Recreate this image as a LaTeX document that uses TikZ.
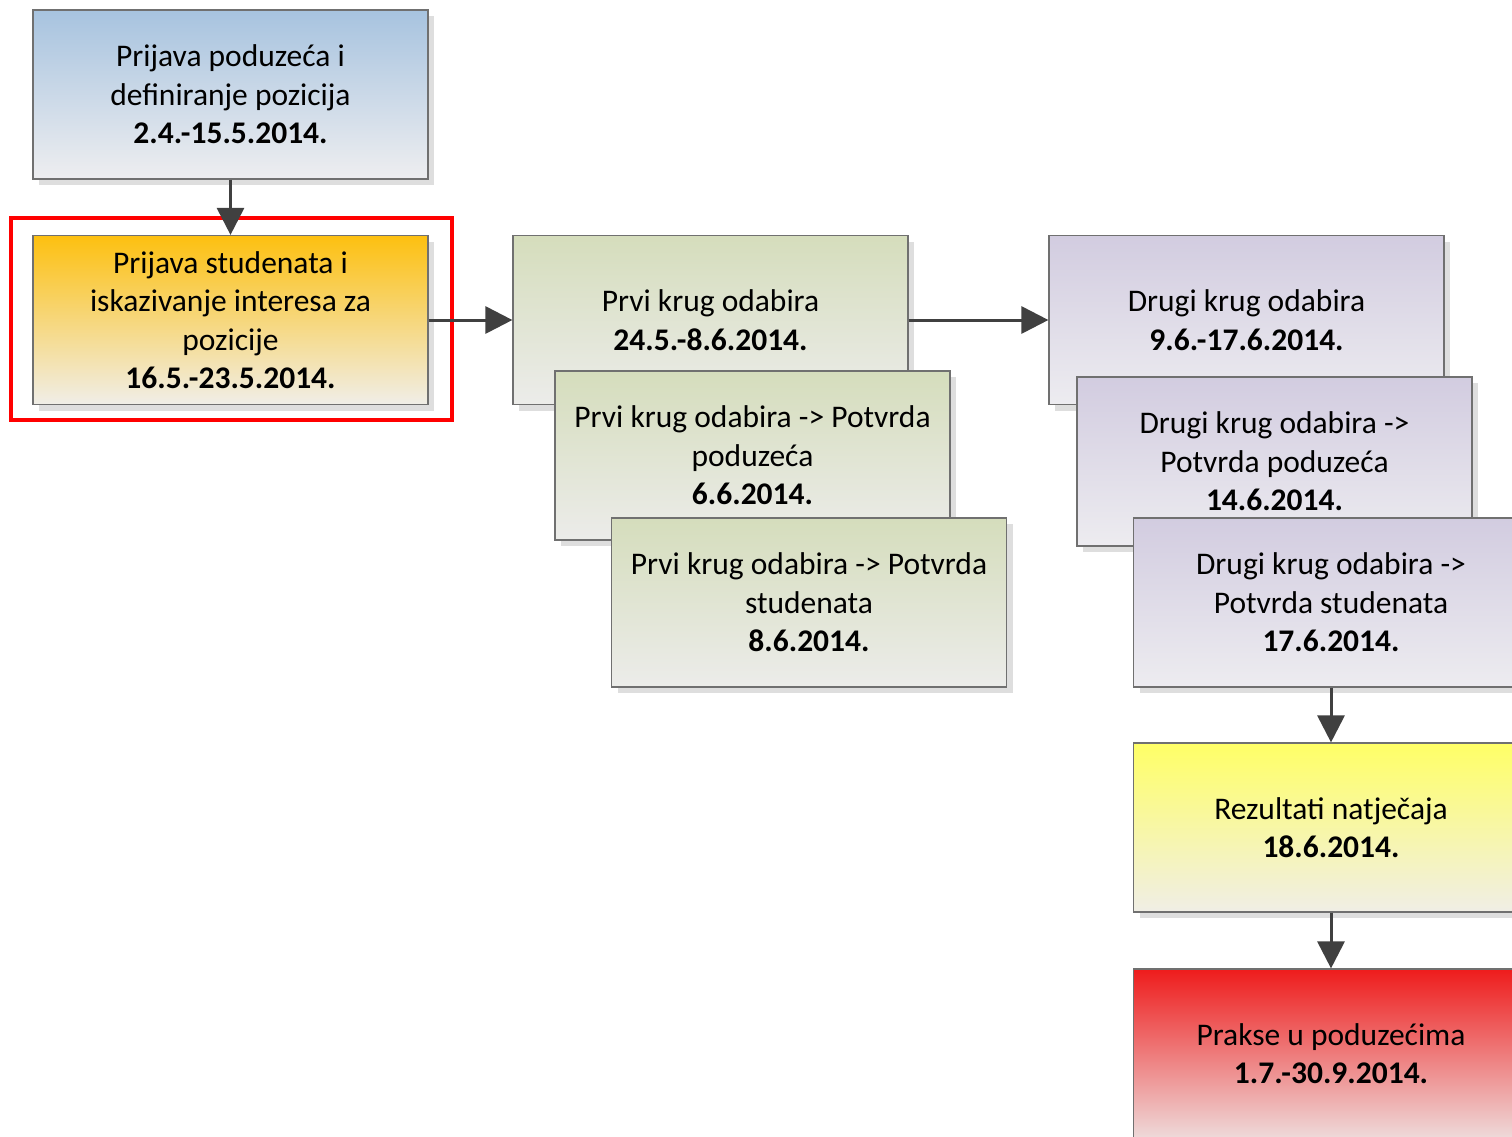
\documentclass[tikz,border=0pt]{standalone}
\usepackage{fontspec}
\setmainfont{Carlito}
\usetikzlibrary{arrows.meta,shadows}

\definecolor{rubgray}{HTML}{707070}
\definecolor{strelica}{HTML}{404040}
\definecolor{sjena}{HTML}{DEDEDE}
\definecolor{plavaG}{HTML}{A7C3DF}
\definecolor{plavaD}{HTML}{EEEEF0}
\definecolor{narG}{HTML}{FDC010}
\definecolor{narD}{HTML}{F0EEE8}
\definecolor{zelG}{HTML}{D5DDBC}
\definecolor{zelD}{HTML}{ECECEA}
\definecolor{ljubG}{HTML}{D2CCE0}
\definecolor{ljubD}{HTML}{EDECF0}
\definecolor{zutG}{HTML}{FFFF66}
\definecolor{zutD}{HTML}{F0EEE6}
\definecolor{crvG}{HTML}{EE1C1C}
\definecolor{crvD}{HTML}{EEDADA}

\tikzset{
  korak/.style={draw=rubgray, line width=1.2pt, minimum width=395, minimum height=169,
    inner sep=0pt, align=center, font=\fontsize{31.5}{38.5}\selectfont,
    drop shadow={shadow xshift=6pt, shadow yshift=-6pt, fill=sjena, opacity=1}},
  plava/.style={korak, top color=plavaG, bottom color=plavaD},
  narancasta/.style={korak, top color=narG, bottom color=narD},
  zelena/.style={korak, top color=zelG, bottom color=zelD},
  ljubicasta/.style={korak, top color=ljubG, bottom color=ljubD},
  zuta/.style={korak, top color=zutG, bottom color=zutD},
  crvena/.style={korak, top color=crvG, bottom color=crvD},
  tok/.style={draw=strelica, line width=3pt, -{Triangle[length=27pt, width=27pt]}}
}

\begin{document}
\begin{tikzpicture}[x=1pt, y=-1pt]

  \useasboundingbox (0, 0) rectangle (1512, 1136);
  \clip (0, 0) rectangle (1512, 1136);

  % Prijave
  \node[plava] (poduzeca) at (230.5, 94.5) {Prijava poduzeća i\\definiranje pozicija\\\textbf{2.4.-15.5.2014.}};
  \node[narancasta] (studenti) at (230.5, 320) {Prijava studenata i\\iskazivanje interesa za\\pozicije\\\textbf{16.5.-23.5.2014.}};
  \draw[red, line width=4pt] (11, 218) rectangle (452, 420);

  % Prvi krug
  \node[zelena] (prvi) at (710.5, 320) {Prvi krug odabira\\\textbf{24.5.-8.6.2014.}};
  \node[zelena] (prviPod) at (752.5, 455.5) {Prvi krug odabira -> Potvrda\\poduzeća\\\textbf{6.6.2014.}};
  \node[zelena] (prviStud) at (809, 602.5) {Prvi krug odabira -> Potvrda\\studenata\\\textbf{8.6.2014.}};

  % Drugi krug
  \node[ljubicasta] (drugi) at (1246.5, 320) {Drugi krug odabira\\\textbf{9.6.-17.6.2014.}};
  \node[ljubicasta] (drugiPod) at (1274.5, 461.5) {Drugi krug odabira ->\\Potvrda poduzeća\\\textbf{14.6.2014.}};
  \node[ljubicasta] (drugiStud) at (1331, 602.5) {Drugi krug odabira ->\\Potvrda studenata\\\textbf{17.6.2014.}};

  % Rezultati i prakse
  \node[zuta] (rezultati) at (1331, 827.5) {Rezultati natječaja\\\textbf{18.6.2014.}};
  \node[crvena] (prakse) at (1331, 1053.5) {Prakse u poduzećima\\\textbf{1.7.-30.9.2014.}};

  \draw[tok] (poduzeca) -- (studenti);
  \draw[tok] (studenti) -- (prvi);
  \draw[tok] (prvi) -- (drugi);
  \draw[tok] (drugiStud) -- (rezultati);
  \draw[tok] (rezultati) -- (prakse);

\end{tikzpicture}
\end{document}
